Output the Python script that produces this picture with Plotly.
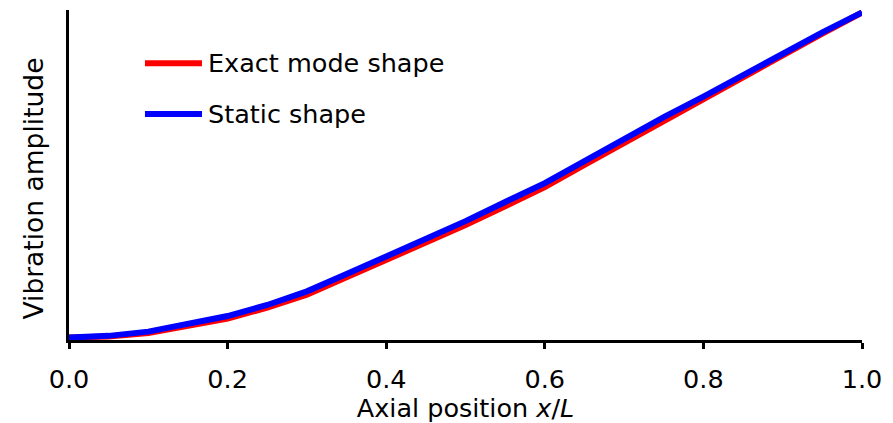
import plotly.graph_objects as go

# Axial stations along the beam (x/L)
x_pos = [0.00, 0.05, 0.10, 0.15, 0.20, 0.25, 0.30, 0.35, 0.40, 0.45, 0.50,
         0.55, 0.60, 0.65, 0.70, 0.75, 0.80, 0.85, 0.90, 0.95, 1.00]

# Normalised amplitudes
exact_mode = [0.000, 0.003, 0.014, 0.036, 0.058, 0.092, 0.132, 0.185, 0.238, 0.294, 0.346,
              0.404, 0.463, 0.531, 0.599, 0.667, 0.732, 0.799, 0.867, 0.935, 1.000]
static_shape = [0.000, 0.005, 0.018, 0.042, 0.066, 0.100, 0.142, 0.195, 0.248, 0.306, 0.358,
                0.417, 0.475, 0.543, 0.611, 0.678, 0.741, 0.808, 0.874, 0.939, 1.000]

x_ticks = [0.0, 0.2, 0.4, 0.6, 0.8, 1.0]
x_tick_text = ["0.0", "0.2", "0.4", "0.6", "0.8", "1.0"]

series_names = ["Exact mode shape", "Static shape"]
series_colors = ["#ff0000", "#0000ff"]

FONT = "Verdana, DejaVu Sans, sans-serif"
FSIZE = 25.5

fig = go.Figure()
for name, ys, col in zip(series_names, [exact_mode, static_shape], series_colors):
    fig.add_trace(go.Scatter(x=x_pos, y=ys, mode="lines", name=name,
                             line=dict(color=col, width=6), showlegend=False))

# Hand-placed legend inside the plot area
legend_y = [0.839, 0.685]
for name, col, ly in zip(series_names, series_colors, legend_y):
    fig.add_shape(type="line", xref="paper", yref="paper",
                  x0=0.0958, x1=0.1677, y0=ly, y1=ly,
                  line=dict(color=col, width=6))
    fig.add_annotation(xref="paper", yref="paper", x=0.1728, y=ly,
                       xanchor="left", yanchor="middle", showarrow=False,
                       text=name, font=dict(family=FONT, size=FSIZE, color="black"))

# Vertical axis title
fig.add_annotation(xref="paper", yref="paper", x=-0.045, y=0.46,
                   xanchor="center", yanchor="middle", showarrow=False,
                   textangle=-90, text="Vibration amplitude",
                   font=dict(family=FONT, size=26.5, color="black"))

fig.update_layout(
    width=893, height=423,
    margin=dict(l=69, r=31, t=10, b=83),
    paper_bgcolor="white", plot_bgcolor="white",
    font=dict(family=FONT, size=FSIZE, color="black"),
    showlegend=False,
    xaxis=dict(range=[0, 1], tickvals=x_ticks, ticktext=x_tick_text,
               showline=True, linecolor="black", linewidth=3,
               ticks="outside", ticklen=6, tickwidth=3, tickcolor="black",
               ticklabelstandoff=8, automargin=False,
               showgrid=False, zeroline=False,
               title=dict(text="Axial position <i>x</i>/<i>L</i>", standoff=4,
                          font=dict(family=FONT, size=FSIZE))),
    yaxis=dict(range=[-0.0077, 1.0077], showline=True, linecolor="black",
               linewidth=3, ticks="", showticklabels=False, automargin=False,
               showgrid=False, zeroline=False),
)

fig.write_html("out.html")
